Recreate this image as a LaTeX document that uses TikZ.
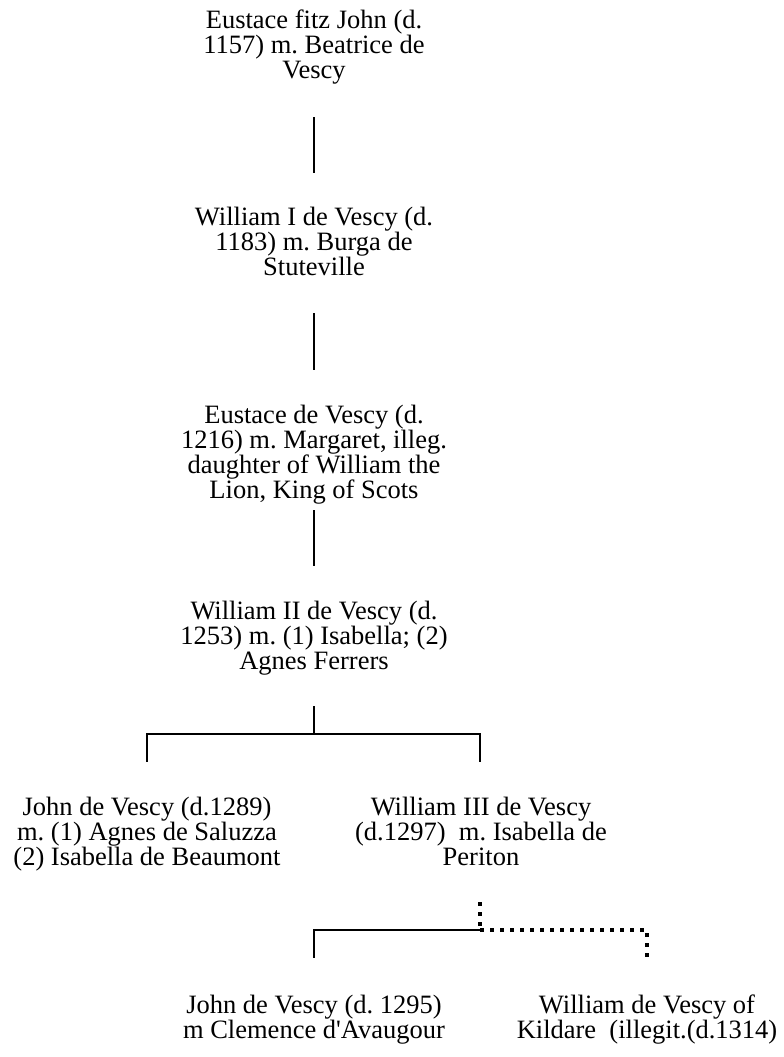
\documentclass[tikz,border=0pt]{standalone}
\usepackage{fontspec}
\setmainfont{Liberation Serif}
\frenchspacing
\begin{document}
\begin{tikzpicture}[x=1pt,y=-1pt,
  person/.style={anchor=north,align=center,inner sep=0pt,
    font=\fontsize{26.5}{25.2}\selectfont},
  line/.style={draw=black,line width=2.2pt},
  dotline/.style={draw=black,line width=3.8pt,dash pattern=on 4pt off 6pt}]
\useasboundingbox (0,0) rectangle (784,1057);
\node[person] (n1) at (314,9.5) {Eustace fitz John (d.\\1157) m. Beatrice de\\Vescy};
\node[person] (n2) at (314,206.5) {William I de Vescy (d.\\1183) m. Burga de\\Stuteville};
\node[person] (n3) at (314,404.5) {Eustace de Vescy (d.\\1216) m. Margaret, illeg.\\daughter of William the\\Lion, King of Scots};
\node[person] (n4) at (314,600.5) {William II de Vescy (d.\\1253) m. (1) Isabella; (2)\\Agnes Ferrers};
\node[person] (n5) at (147,796.5) {John de Vescy (d.1289)\\m. (1) Agnes de Saluzza\\(2) Isabella de Beaumont};
\node[person] (n6) at (481,796.5) {William III de Vescy\\(d.1297)\ \ m. Isabella de\\Periton};
\node[person] (n7) at (314,994.5) {John de Vescy (d. 1295)\\m Clemence d\textquotesingle Avaugour};
\node[person] (n8) at (647,994.5) {William de Vescy of\\Kildare\ \ (illegit.(d.1314)};
\draw[line] ([yshift=-107.5pt]n1.north) -- ([yshift=33.5pt]n2.north);
\draw[line] ([yshift=-106.5pt]n2.north) -- ([yshift=34.5pt]n3.north);
\draw[line] ([yshift=-105.5pt]n3.north) -- ([yshift=34.5pt]n4.north);
\coordinate (j4) at ([yshift=-133.5pt]n4.north);
\draw[line] ([yshift=-105.5pt]n4.north) -- (j4);
\draw[line] (j4) -| ([yshift=34.5pt]n5.north);
\draw[line] (j4) -| ([xshift=-1pt,yshift=34.5pt]n6.north);
\coordinate (j6) at ([xshift=-1pt,yshift=-133.5pt]n6.north);
\draw[dotline] ([xshift=-1pt,yshift=-105.5pt]n6.north) -- (j6);
\draw[line] (j6) -| ([yshift=36.5pt]n7.north);
\draw[dotline] (j6) -| ([yshift=36.5pt]n8.north);
\end{tikzpicture}
\end{document}
